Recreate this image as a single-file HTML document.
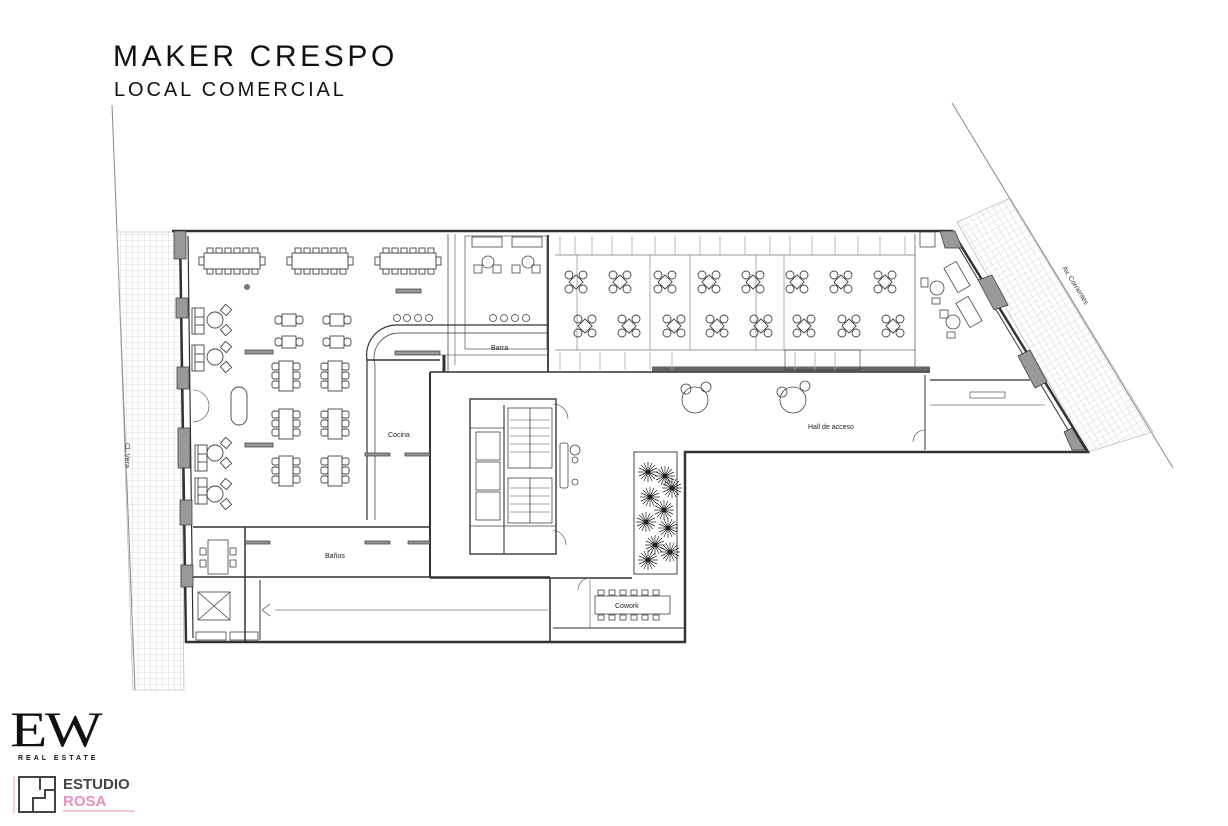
<!DOCTYPE html>
<html><head><meta charset="utf-8"><style>
html,body{margin:0;padding:0;background:#fff;}
body{width:1228px;height:826px;overflow:hidden;position:relative;font-family:"Liberation Sans",sans-serif;}
.t1{position:absolute;left:113px;top:40px;font-size:30px;letter-spacing:3.6px;color:#111;}
.t2{position:absolute;left:114px;top:79px;font-size:20px;letter-spacing:2.9px;color:#111;}
</style></head><body>
<div class="t1">MAKER CRESPO</div>
<div class="t2">LOCAL COMERCIAL</div>
<svg width="1228" height="826" style="position:absolute;left:0;top:0" xmlns="http://www.w3.org/2000/svg">
<defs>
<pattern id="grid" width="6" height="6" patternUnits="userSpaceOnUse"><path d="M6 0H0V6" fill="none" stroke="#bbb" stroke-width="0.6"/></pattern>
<pattern id="grid2" width="6" height="6" patternUnits="userSpaceOnUse" patternTransform="rotate(-31)"><path d="M6 0H0V6" fill="none" stroke="#bbb" stroke-width="0.6"/></pattern>
<g id="t4" fill="none" stroke="#444" stroke-width="0.9">
<rect x="-5" y="-5" width="10" height="10" transform="rotate(45)"/>
<circle cx="-7" cy="-7" r="4"/><circle cx="7" cy="-7" r="4"/><circle cx="-7" cy="7" r="4"/><circle cx="7" cy="7" r="4"/></g>
<g id="long" fill="none" stroke="#444" stroke-width="0.9">
<rect x="-28" y="-8" width="56" height="16"/>
<rect x="-25" y="-13" width="6" height="5"/><rect x="-16" y="-13" width="6" height="5"/><rect x="-7" y="-13" width="6" height="5"/><rect x="2" y="-13" width="6" height="5"/><rect x="11" y="-13" width="6" height="5"/><rect x="20" y="-13" width="6" height="5"/>
<rect x="-25" y="8" width="6" height="5"/><rect x="-16" y="8" width="6" height="5"/><rect x="-7" y="8" width="6" height="5"/><rect x="2" y="8" width="6" height="5"/><rect x="11" y="8" width="6" height="5"/><rect x="20" y="8" width="6" height="5"/>
<rect x="-33" y="-4" width="5" height="8"/><rect x="28" y="-4" width="5" height="8"/></g>
<g id="t2" fill="none" stroke="#444" stroke-width="0.9">
<rect x="-7" y="-6" width="14" height="12"/><rect x="-14" y="-4" width="7" height="8" rx="3"/><rect x="7" y="-4" width="7" height="8" rx="3"/></g>
<g id="t6" fill="none" stroke="#444" stroke-width="0.9">
<rect x="-7" y="-15" width="14" height="30"/>
<rect x="-14" y="-13" width="7" height="7" rx="2"/><rect x="-14" y="-4" width="7" height="7" rx="2"/><rect x="-14" y="5" width="7" height="7" rx="2"/>
<rect x="7" y="-13" width="7" height="7" rx="2"/><rect x="7" y="-4" width="7" height="7" rx="2"/><rect x="7" y="5" width="7" height="7" rx="2"/></g>
<g id="lounge" fill="none" stroke="#444" stroke-width="0.9">
<circle cx="0" cy="0" r="8"/><rect x="7" y="-14" width="8" height="8" transform="rotate(40 11 -10)"/><rect x="7" y="6" width="8" height="8" transform="rotate(-40 11 10)"/></g>
<g id="sofa" fill="none" stroke="#444" stroke-width="0.9"><rect x="0" y="0" width="12" height="26"/><line x1="3" y1="0" x2="3" y2="26"/><line x1="3" y1="9" x2="12" y2="9"/><line x1="3" y1="17" x2="12" y2="17"/></g>
<g id="plant" stroke="#222" stroke-width="0.7" fill="none">
<path d="M-10 0H10M0 -10V10M-7 -7L7 7M-7 7L7 -7M-9 -4L9 4M-4 -9L4 9M-9 4L9 -4M4 -9L-4 9"/><circle r="2" fill="#222"/></g>
</defs>

<line x1="112" y1="105" x2="135" y2="690" stroke="#888" stroke-width="1"/>
<line x1="952" y1="103" x2="1173" y2="468" stroke="#888" stroke-width="1"/>
<text x="0" y="0" font-size="7" fill="#333" transform="translate(125,443) rotate(90)">Cl. Vera</text>
<text x="0" y="0" font-size="7" fill="#333" transform="translate(1062,268) rotate(58)">Av. Corrientes</text>
<polygon points="117,232 180,232 184,690 133,690" fill="url(#grid)" stroke="#aaa" stroke-width="0.6"/>
<polygon points="957,222 1010,198 1153,432 1088,452" fill="url(#grid2)" stroke="#aaa" stroke-width="0.6"/>

<g fill="none" stroke="#333">
<polyline points="172,231 952,231 1088,452 685,452 685,642 186,642 180,231" stroke-width="2.5" fill="#fff"/>
<line x1="188" y1="236" x2="193" y2="638" stroke-width="1.2"/>
<line x1="952" y1="236" x2="1080" y2="450" stroke-width="1"/>
<polyline points="193,527 367,527" stroke-width="1.5"/>
<path d="M367,520 V360 A30 30 0 0 1 397,325 H548" stroke-width="1.2"/>
<path d="M375,520 V365 A25 25 0 0 1 400,333 H548" stroke-width="0.7"/>
<line x1="367" y1="360" x2="440" y2="360" stroke-width="1.5"/>
<line x1="430" y1="372" x2="430" y2="578" stroke-width="2"/>
<line x1="430" y1="372" x2="930" y2="372" stroke-width="1.5"/>
<line x1="367" y1="527" x2="430" y2="527" stroke-width="1.5"/>
<line x1="245" y1="527" x2="245" y2="642" stroke-width="1.5"/>
<line x1="193" y1="577" x2="550" y2="577" stroke-width="1.5"/>
<line x1="430" y1="578" x2="632" y2="578" stroke-width="1.5"/>
<line x1="550" y1="578" x2="550" y2="642" stroke-width="1.5"/>
<line x1="260" y1="580" x2="260" y2="640" stroke-width="1"/>
<line x1="275" y1="610" x2="548" y2="610" stroke-width="0.6"/>
<path d="M262 610 L270 604 M262 610 L270 616" stroke-width="0.6"/>
<line x1="553" y1="628" x2="685" y2="628" stroke-width="1"/>
<line x1="590" y1="580" x2="590" y2="628" stroke-width="0.5"/>
<line x1="925" y1="375" x2="925" y2="450" stroke-width="1"/>
<line x1="930" y1="380" x2="1030" y2="380" stroke-width="1.2"/>
<line x1="930" y1="405" x2="1045" y2="405" stroke-width="0.6"/>
<rect x="970" y="392" width="35" height="6" stroke-width="0.6"/>
<line x1="448" y1="234" x2="448" y2="372" stroke-width="0.7"/>
<line x1="455" y1="234" x2="455" y2="365" stroke-width="0.5"/>
<rect x="465" y="236" width="82" height="113" stroke-width="0.6"/>
<line x1="440" y1="355" x2="548" y2="355" stroke-width="0.6"/>
<line x1="548" y1="235" x2="548" y2="372" stroke-width="1.8"/>
<line x1="444" y1="355" x2="444" y2="372" stroke-width="3"/>
<line x1="555" y1="255" x2="915" y2="255" stroke-width="0.6"/>
<line x1="555" y1="350" x2="915" y2="350" stroke-width="0.6"/>
<line x1="915" y1="234" x2="915" y2="370" stroke-width="0.6"/>
<line x1="577" y1="255" x2="577" y2="350" stroke-width="0.4"/>
<line x1="650" y1="255" x2="650" y2="350" stroke-width="0.4"/>
<line x1="690" y1="255" x2="690" y2="350" stroke-width="0.4"/>
<line x1="756" y1="255" x2="756" y2="350" stroke-width="0.4"/>
<line x1="784" y1="255" x2="784" y2="350" stroke-width="0.4"/>
<line x1="652" y1="369" x2="930" y2="369" stroke-width="5" stroke="#666"/>
<rect x="785" y="350" width="75" height="20" stroke-width="0.6"/>
</g>
<g stroke="#aaa" stroke-width="0.8">
<path d="M560 236V255M575 236V255M592 236V255M612 236V255M632 236V255M655 236V255M675 236V255M700 236V255M720 236V255M745 236V255M770 236V255M790 236V255M812 236V255M835 236V255M858 236V255M880 236V255M905 236V255"/>
<path d="M560 352V370M580 352V370M600 352V370M625 352V370M650 352V370M672 352V370M795 352V370M815 352V370M835 352V370"/>
</g>
<g fill="#999" stroke="#333" stroke-width="0.7">
<rect x="174" y="231" width="12" height="28"/><rect x="176" y="298" width="12" height="20"/><rect x="177" y="367" width="12" height="22"/><rect x="178" y="428" width="12" height="40"/><rect x="180" y="500" width="12" height="25"/><rect x="181" y="565" width="12" height="22"/>
<rect x="920" y="232" width="15" height="15" fill="#fff"/>
<polygon points="940,231 955,231 962,248 945,248"/>
<polygon points="978,280 992,275 1008,305 994,310"/>
<polygon points="1018,356 1030,350 1047,382 1035,388"/>
<polygon points="1064,432 1072,428 1085,450 1072,450"/>
<rect x="245" y="350" width="28" height="4"/><rect x="245" y="443" width="28" height="4"/><rect x="365" y="453" width="25" height="3"/><rect x="405" y="453" width="25" height="3"/><rect x="245" y="541" width="25" height="3"/><rect x="365" y="541" width="25" height="3"/><rect x="408" y="541" width="22" height="3"/>
<rect x="395" y="351" width="45" height="4"/><rect x="396" y="289" width="25" height="4"/>
</g>
<circle cx="247" cy="287" r="3" fill="#777"/>
<use href="#long" x="232" y="261"/><use href="#long" x="320" y="261"/><use href="#long" x="408" y="261"/>
<use href="#t2" x="289" y="320"/><use href="#t2" x="337" y="320"/><use href="#t2" x="289" y="342"/><use href="#t2" x="337" y="342"/>
<use href="#t6" x="286" y="376"/><use href="#t6" x="335" y="376"/><use href="#t6" x="286" y="424"/><use href="#t6" x="335" y="424"/><use href="#t6" x="286" y="471"/><use href="#t6" x="335" y="471"/>
<use href="#lounge" x="215" y="320"/><use href="#lounge" x="215" y="357"/><use href="#lounge" x="215" y="453"/><use href="#lounge" x="215" y="494"/>
<use href="#sofa" x="192" y="308"/><use href="#sofa" x="192" y="345"/><use href="#sofa" x="195" y="445"/><use href="#sofa" x="195" y="478"/>
<rect x="231" y="387" width="16" height="38" rx="8" fill="none" stroke="#444" stroke-width="0.9"/>
<g fill="none" stroke="#444" stroke-width="0.8">
<rect x="208" y="540" width="20" height="34"/><rect x="200" y="548" width="6" height="7"/><rect x="200" y="560" width="6" height="7"/><rect x="230" y="548" width="6" height="7"/><rect x="230" y="560" width="6" height="7"/>
<rect x="198" y="592" width="32" height="28"/><path d="M198 592L230 620M230 592L198 620"/>
<rect x="196" y="632" width="30" height="8"/><rect x="230" y="632" width="28" height="8"/>
<rect x="472" y="237" width="30" height="10"/><rect x="512" y="237" width="30" height="10"/>
<circle cx="488" cy="262" r="6"/><circle cx="528" cy="262" r="6"/>
<rect x="474" y="265" width="8" height="8"/><rect x="493" y="265" width="8" height="8"/><rect x="512" y="265" width="8" height="8"/><rect x="532" y="265" width="8" height="8"/>
<circle cx="397" cy="318" r="3.5"/><circle cx="407" cy="318" r="3.5"/><circle cx="418" cy="318" r="3.5"/><circle cx="429" cy="318" r="3.5"/>
<circle cx="493" cy="318" r="3.5"/><circle cx="504" cy="318" r="3.5"/><circle cx="515" cy="318" r="3.5"/><circle cx="526" cy="318" r="3.5"/>
<circle cx="695" cy="400" r="13"/><circle cx="686" cy="389" r="5"/><circle cx="706" cy="387" r="5"/>
<circle cx="793" cy="400" r="13"/><circle cx="782" cy="392" r="5"/><circle cx="805" cy="386" r="5"/>
<rect x="950" y="263" width="14" height="28" transform="rotate(-30 957 277)"/><rect x="962" y="298" width="14" height="28" transform="rotate(-30 969 312)"/>
<circle cx="937" cy="288" r="7"/><circle cx="953" cy="322" r="7"/>
<rect x="921" y="278" width="7" height="9"/><rect x="932" y="298" width="8" height="6"/><rect x="940" y="310" width="8" height="8"/><rect x="947" y="332" width="8" height="6"/>
<rect x="470" y="399" width="86" height="155" stroke-width="1.5"/>
<line x1="504" y1="405" x2="504" y2="554" stroke-width="1.2"/><line x1="470" y1="428" x2="504" y2="428"/><line x1="470" y1="526" x2="556" y2="526"/>
<rect x="476" y="432" width="24" height="28"/><rect x="476" y="462" width="24" height="28"/><rect x="476" y="492" width="24" height="28"/>
<rect x="508" y="408" width="44" height="60"/><rect x="508" y="478" width="44" height="45"/>
<path d="M510 420H550M510 428H550M510 436H550M510 444H550M510 452H550M510 488H550M510 496H550M510 504H550M510 512H550" stroke-width="0.5"/>
<line x1="530" y1="408" x2="530" y2="468"/><line x1="530" y1="478" x2="530" y2="523"/>
<rect x="560" y="443" width="8" height="45" rx="2"/><circle cx="575" cy="450" r="5"/><circle cx="575" cy="460" r="3"/><circle cx="575" cy="482" r="3"/>
<rect x="634" y="452" width="43" height="122" stroke-width="1"/>
<rect x="595" y="596" width="75" height="18"/>
<rect x="598" y="590" width="6" height="5"/><rect x="609" y="590" width="6" height="5"/><rect x="620" y="590" width="6" height="5"/><rect x="631" y="590" width="6" height="5"/><rect x="642" y="590" width="6" height="5"/><rect x="653" y="590" width="6" height="5"/>
<rect x="598" y="615" width="6" height="5"/><rect x="609" y="615" width="6" height="5"/><rect x="620" y="615" width="6" height="5"/><rect x="631" y="615" width="6" height="5"/><rect x="642" y="615" width="6" height="5"/><rect x="653" y="615" width="6" height="5"/>
<path d="M553 404 A15 15 0 0 1 568 419 M553 530 A15 15 0 0 1 566 545 M590 578 A12 12 0 0 0 578 590 M925 430 A12 12 0 0 0 913 442" stroke-width="0.6"/>
<path d="M193 390 A16 16 0 0 1 209 406 M193 422 A16 16 0 0 0 209 406" stroke-width="0.6"/>
</g>
<use href="#plant" x="648" y="472"/><use href="#plant" x="665" y="476"/><use href="#plant" x="672" y="488"/><use href="#plant" x="650" y="497"/><use href="#plant" x="664" y="510"/><use href="#plant" x="646" y="522"/><use href="#plant" x="668" y="528"/><use href="#plant" x="655" y="545"/><use href="#plant" x="670" y="552"/><use href="#plant" x="648" y="560"/>
<use href="#t4" x="576" y="282"/><use href="#t4" x="620" y="282"/><use href="#t4" x="665" y="282"/><use href="#t4" x="709" y="282"/><use href="#t4" x="753" y="282"/><use href="#t4" x="797" y="282"/><use href="#t4" x="841" y="282"/><use href="#t4" x="885" y="282"/>
<use href="#t4" x="585" y="326"/><use href="#t4" x="629" y="326"/><use href="#t4" x="674" y="326"/><use href="#t4" x="717" y="326"/><use href="#t4" x="761" y="326"/><use href="#t4" x="804" y="326"/><use href="#t4" x="849" y="326"/><use href="#t4" x="893" y="326"/>
<g font-size="7" fill="#222" font-family="Liberation Sans, sans-serif">
<text x="491" y="350">Barra</text>
<text x="388" y="437">Cocina</text>
<text x="325" y="558">Baños</text>
<text x="808" y="429">Hall de acceso</text>
<text x="615" y="608">Cowork</text>
</g>
<text x="10" y="746" font-family="Liberation Serif, serif" font-size="50" fill="#111" letter-spacing="-2" textLength="90" lengthAdjust="spacingAndGlyphs">EW</text>
<text x="18" y="760" font-size="7" font-weight="bold" letter-spacing="3" fill="#111">REAL ESTATE</text>
<line x1="14" y1="776" x2="14" y2="813" stroke="#e8a0c0" stroke-width="1"/>
<path d="M19 777H55V812H19Z M33 812V798H45V790H55 M40 777V790" fill="none" stroke="#444" stroke-width="2"/>
<text x="63" y="789" font-size="15" font-weight="bold" fill="#444">ESTUDIO</text>
<text x="63" y="806" font-size="15" font-weight="bold" fill="#e890bb">ROSA</text>
<line x1="63" y1="811" x2="135" y2="811" stroke="#e890bb" stroke-width="1"/>
</svg>
</body></html>
